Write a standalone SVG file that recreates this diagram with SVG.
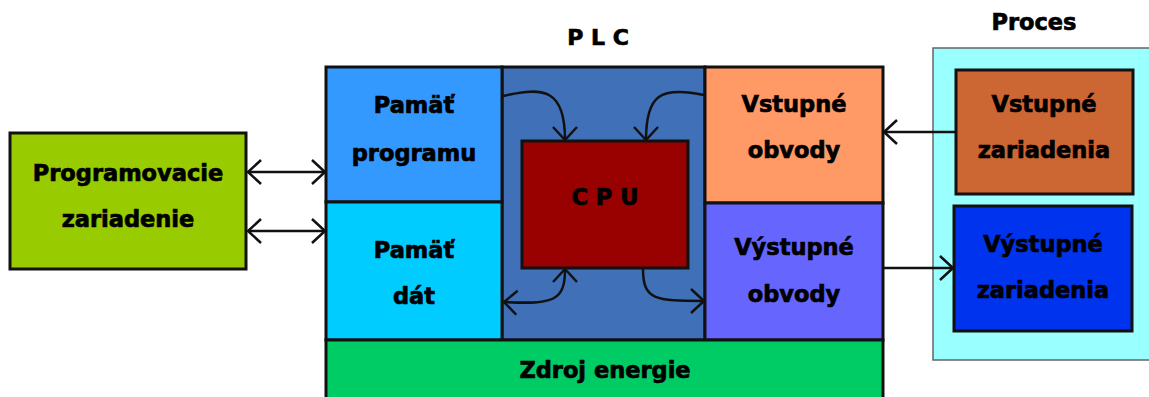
<svg xmlns="http://www.w3.org/2000/svg" width="1149" height="397" viewBox="0 0 1149 397">
<defs>
<style>
.t{font-family:"DejaVu Sans",Verdana,sans-serif;font-weight:bold;font-size:22.5px;fill:#000;stroke:#000;stroke-width:0.7;text-anchor:middle}
.b{stroke:#111;stroke-width:3}
.c{fill:none;stroke:#111;stroke-width:2.5}
</style>
<marker id="arr" markerUnits="userSpaceOnUse" markerWidth="22" markerHeight="28" refX="17" refY="14" orient="auto-start-reverse">
<path d="M4,2 L17,14 L4,26" fill="none" stroke="#111" stroke-width="2.5"/>
</marker>
</defs>
<rect width="1149" height="397" fill="#fff"/>
<text class="t" x="598" y="45" style="font-size:22px">P L C</text>
<text class="t" x="1034" y="30">Proces</text>
<g id="proces"><rect x="933" y="48" width="230" height="312" fill="#99ffff" stroke="#666" stroke-width="1.5"/></g>
<g id="plc-cpu-area"><rect x="502" y="67" width="203" height="273" fill="#4070b8" class="b"/></g>
<g id="pamat-programu"><rect x="326" y="67" width="176" height="135" fill="#3399ff" class="b"/>
<text class="t" x="414" y="113">Pamäť</text><text class="t" x="414" y="161">programu</text></g>
<g id="pamat-dat"><rect x="326" y="202" width="176" height="138" fill="#00ccff" class="b"/>
<text class="t" x="414" y="258">Pamäť</text><text class="t" x="414" y="304">dát</text></g>
<g id="cpu"><rect x="522" y="141" width="166" height="127" fill="#990000" class="b"/>
<text class="t" x="605" y="205" style="font-size:22.5px">C P U</text></g>
<g id="vstupne-obvody"><rect x="705" y="67" width="178" height="136" fill="#ff9966" class="b"/>
<text class="t" x="794" y="112">Vstupné</text><text class="t" x="794" y="158">obvody</text></g>
<g id="vystupne-obvody"><rect x="705" y="203" width="178" height="137" fill="#6666ff" class="b"/>
<text class="t" x="794" y="255">Výstupné</text><text class="t" x="794" y="302">obvody</text></g>
<g id="zdroj-energie"><rect x="326" y="340" width="557" height="70" fill="#00cc66" class="b"/>
<text class="t" x="605" y="378">Zdroj energie</text></g>
<g id="programovacie-zariadenie"><rect x="10" y="133" width="236" height="136" fill="#99cc00" class="b"/>
<text class="t" x="128" y="181">Programovacie</text><text class="t" x="128" y="227">zariadenie</text></g>
<g id="vstupne-zariadenia"><rect x="956" y="70" width="177" height="124" fill="#cc6633" class="b"/>
<text class="t" x="1044" y="112">Vstupné</text><text class="t" x="1044" y="158">zariadenia</text></g>
<g id="vystupne-zariadenia"><rect x="954" y="206" width="178" height="125" fill="#0033ee" class="b"/>
<text class="t" x="1043" y="252">Výstupné</text><text class="t" x="1043" y="298">zariadenia</text></g>
<g id="connectors">
<line class="c" x1="248" y1="172" x2="325" y2="172" marker-start="url(#arr)" marker-end="url(#arr)"/>
<line class="c" x1="248" y1="231" x2="325" y2="231" marker-start="url(#arr)" marker-end="url(#arr)"/>
<line class="c" x1="956" y1="132" x2="884" y2="132" marker-end="url(#arr)"/>
<line class="c" x1="884" y1="268" x2="953" y2="268" marker-end="url(#arr)"/>
<path class="c" d="M503,96 C545,86 565,90 565,140" marker-end="url(#arr)"/>
<path class="c" d="M704,95 C660,86 646,95 646,140" marker-end="url(#arr)"/>
<path class="c" d="M504,302 C555,305 565,300 565,269" marker-start="url(#arr)" marker-end="url(#arr)"/>
<path class="c" d="M643,269 C643,300 655,301 704,301" marker-end="url(#arr)"/>
</g>
</svg>
